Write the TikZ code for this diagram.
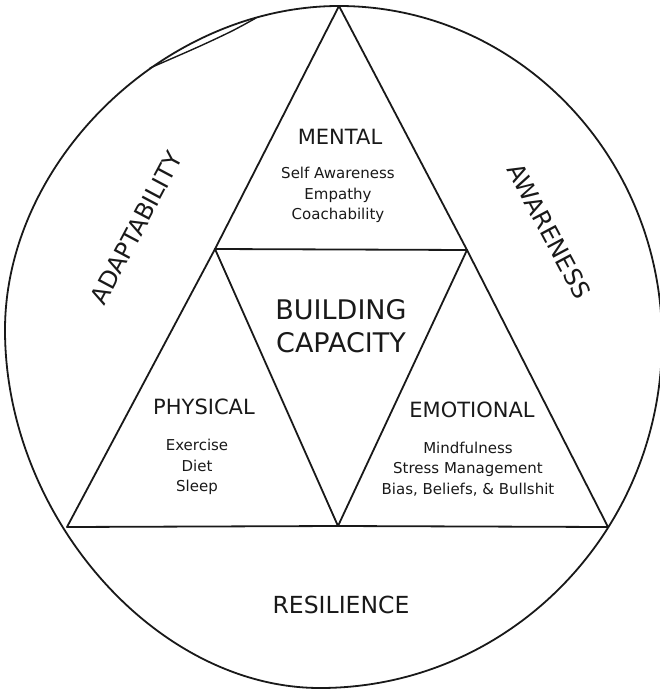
\documentclass[tikz,border=0pt]{standalone}
\usepackage{fontspec}
\setmainfont{DejaVu Sans}
\usetikzlibrary{calc}

\begin{document}
\begin{tikzpicture}[x=1pt, y=-1pt,
    edge/.style={line width=1.8pt, line join=round, line cap=round, draw=black!90},
    head/.style={font=\fontsize{21}{24}\selectfont, text=black!90},
    items/.style={align=center, font=\fontsize{15}{20.5}\selectfont, text=black!90},
    side/.style={font=\fontsize{24}{28}\selectfont, text=black!90}
]
\useasboundingbox (0,0) rectangle (660,690);
\draw[edge] (339,6) .. controls (517,6) and (662,156) .. (662,340)
    .. controls (662,532) and (509,688) .. (320,688)
    .. controls (156,688) and (5,516) .. (5,330)
    .. controls (5,161) and (165,6) .. cycle;
\draw[edge, line width=1.4pt] plot[smooth] coordinates {(150,68) (198,47) (232,31) (256,18)};

\coordinate (apex) at (339,6);
\coordinate (bl) at (67,527);
\coordinate (br) at (608,527);
\coordinate (ml) at (215,249);
\coordinate (mr) at (467,250);
\coordinate (bm) at (338,526);

\draw[edge] (apex) -- (ml) -- (bl) -- (bm) -- (br) -- (mr) -- cycle;
\draw[edge] (ml) -- (mr) -- (bm) -- cycle;

\node[head] (mental) at (340,137) {MENTAL};
\node[items] (mentalitems) at (338,195) {Self Awareness\\Empathy\\Coachability};
\node[align=center, font=\fontsize{27}{33.5}\selectfont, text=black!90] (core) at (341,326) {BUILDING\\CAPACITY};
\node[head] (physical) at (204,407) {PHYSICAL};
\node[items] (physicalitems) at (197,467) {Exercise\\Diet\\Sleep};
\node[head] (emotional) at (472,410) {EMOTIONAL};
\node[items] (emotionalitems) at (468,469) {Mindfulness\\Stress Management\\Bias, Beliefs, \& Bullshit};
\node[side, font=\fontsize{23.5}{28}\selectfont] (resilience) at (341,605) {RESILIENCE};
\node[side, rotate=62] (adapt) at (136,228) {ADAPTABILITY};
\node[side, rotate=-62] (aware) at (549,231) {AWARENESS};
\end{tikzpicture}
\end{document}
